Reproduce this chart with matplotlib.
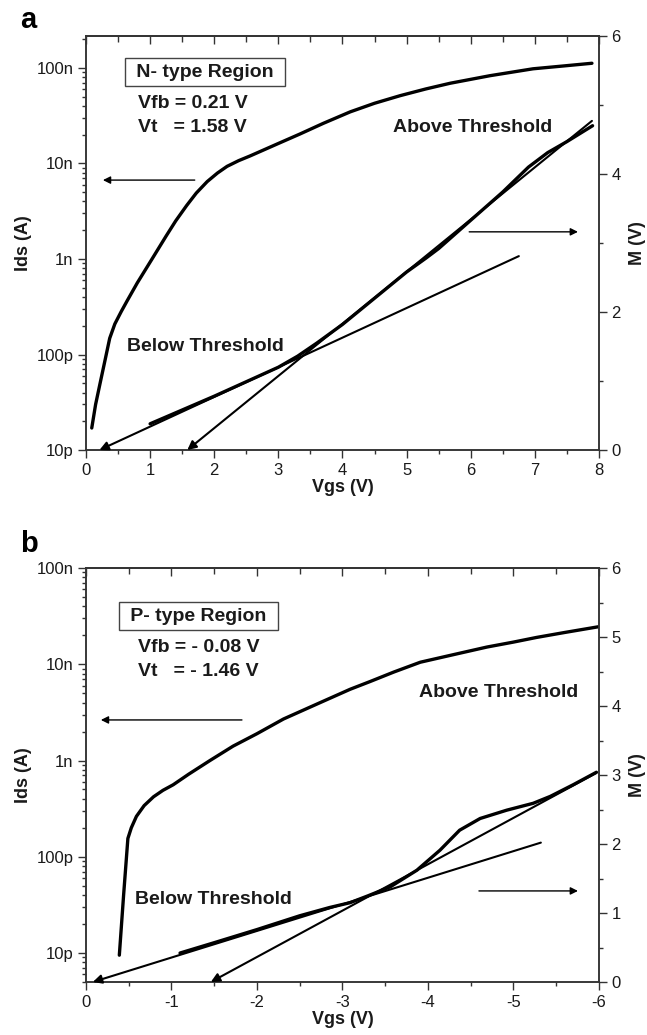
import numpy as np
import matplotlib
matplotlib.use('Agg')
import matplotlib.pyplot as plt
from matplotlib.ticker import FixedLocator, FixedFormatter, MultipleLocator, LogLocator, NullFormatter

plt.rcParams['font.family'] = ['Liberation Sans', 'DejaVu Sans']
plt.rcParams['axes.unicode_minus'] = False

# -------------------------
# Data
# -------------------------
# panel a (N-type), Ids on log axis
a_ids_v = [0.09, 0.15, 0.22, 0.30, 0.37, 0.45, 0.55, 0.64, 0.80, 1.03, 1.25, 1.40, 1.57, 1.72,
           1.89, 2.05, 2.20, 2.38, 2.56, 3.00, 3.34, 3.70, 4.12, 4.50, 4.90, 5.30, 5.68, 6.30,
           6.97, 7.45, 7.89]
a_ids = [1.7e-11, 3.0e-11, 5.0e-11, 8.9e-11, 1.48e-10, 2.09e-10, 2.82e-10, 3.63e-10, 5.62e-10,
         1.0e-9, 1.74e-9, 2.51e-9, 3.63e-9, 4.9e-9, 6.46e-9, 7.94e-9, 9.33e-9, 1.07e-8,
         1.2e-8, 1.62e-8, 2.04e-8, 2.63e-8, 3.47e-8, 4.27e-8, 5.13e-8, 6.03e-8, 6.92e-8,
         8.3e-8, 9.8e-8, 1.05e-7, 1.12e-7]
# panel a, M on right axis
a_m_v = [1.0, 1.5, 2.0, 2.5, 3.0, 3.3, 3.6, 4.0, 4.5, 5.0, 5.3, 5.5, 6.0, 6.5, 6.9, 7.2, 7.5, 7.9]
a_m = [0.38, 0.58, 0.78, 0.99, 1.20, 1.36, 1.55, 1.82, 2.20, 2.58, 2.78, 2.92, 3.33, 3.74,
       4.10, 4.31, 4.47, 4.70]
# fitted lines (end point, then arrow tip on the axis)
a_fit1_v = [6.75, 0.21]
a_fit1_m = [2.81, 0.0]
a_fit2_v = [7.89, 1.58]
a_fit2_m = [4.77, 0.0]

# panel b (P-type)
b_ids_v = [-0.39, -0.44, -0.49, -0.53, -0.59, -0.68, -0.79, -0.90, -1.02, -1.20, -1.45, -1.72,
           -2.00, -2.31, -2.74, -3.09, -3.32, -3.60, -3.91, -4.30, -4.69, -5.00, -5.27, -5.60, -5.99]
b_ids = [9.5e-12, 4.0e-11, 1.55e-10, 2.0e-10, 2.63e-10, 3.4e-10, 4.2e-10, 4.9e-10, 5.6e-10,
         7.2e-10, 1.0e-9, 1.41e-9, 1.9e-9, 2.7e-9, 4.0e-9, 5.5e-9, 6.6e-9, 8.3e-9, 1.05e-8,
         1.26e-8, 1.51e-8, 1.7e-8, 1.9e-8, 2.14e-8, 2.45e-8]
b_m_v = [-1.10, -1.50, -2.00, -2.50, -2.85, -3.09, -3.30, -3.56, -3.87, -4.14, -4.37, -4.61,
         -4.92, -5.23, -5.43, -5.70, -5.97]
b_m = [0.42, 0.57, 0.76, 0.96, 1.08, 1.15, 1.25, 1.38, 1.62, 1.91, 2.20, 2.37, 2.49, 2.59,
       2.69, 2.86, 3.04]
b_fit1_v = [-5.32, -0.08]
b_fit1_m = [2.02, 0.0]
b_fit2_v = [-5.97, -1.46]
b_fit2_m = [3.03, 0.0]

ids_ticks = [1e-11, 1e-10, 1e-9, 1e-8, 1e-7]
ids_labels = ['10p', '100p', '1n', '10n', '100n']

# -------------------------
# Figure
# -------------------------
fig = plt.figure(figsize=(6.47, 10.35), dpi=100)
spine_c = '#333333'
text_c = '#1a1a1a'


def setup(ax, xlim, xmajor, ylim, mticks, mminor):
    ax.set_yscale('log')
    ax.set_xlim(*xlim)
    ax.set_ylim(*ylim)
    ax.xaxis.set_major_locator(MultipleLocator(xmajor))
    ax.xaxis.set_minor_locator(MultipleLocator(xmajor / 2))
    ax.yaxis.set_major_locator(FixedLocator(ids_ticks))
    ax.yaxis.set_major_formatter(FixedFormatter(ids_labels))
    ax.yaxis.set_minor_locator(LogLocator(base=10, subs=np.arange(2, 10)))
    ax.yaxis.set_minor_formatter(NullFormatter())
    ax.tick_params(which='both', direction='out', right=False, top=False, colors=spine_c,
                   labelcolor=text_c, labelsize=12, width=1)
    ax.tick_params(which='major', length=6, pad=3)
    ax.tick_params(which='minor', length=3)
    for s in ax.spines.values():
        s.set_color(spine_c)
        s.set_linewidth(1.1)

    sec = ax.secondary_xaxis('top')
    sec.xaxis.set_major_locator(MultipleLocator(xmajor))
    sec.xaxis.set_minor_locator(MultipleLocator(xmajor / 2))
    sec.tick_params(which='both', direction='in', labeltop=False, colors=spine_c, width=1)
    sec.tick_params(which='major', length=6)
    sec.tick_params(which='minor', length=4)
    sec.spines['top'].set_color(spine_c)
    sec.spines['top'].set_linewidth(1.1)

    ax2 = ax.twinx()
    ax2.set_ylim(0, 6)
    ax2.yaxis.set_major_locator(MultipleLocator(mticks))
    ax2.yaxis.set_minor_locator(MultipleLocator(mminor))
    ax2.tick_params(which='both', direction='out', colors=spine_c, labelcolor=text_c,
                    labelsize=12, width=1)
    ax2.tick_params(which='major', length=6, pad=3)
    ax2.tick_params(which='minor', length=3)
    for s in ax2.spines.values():
        s.set_color(spine_c)
        s.set_linewidth(1.1)

    ax.set_xlabel('Vgs (V)', fontsize=13, fontweight='bold', color=text_c, labelpad=1)
    ax.set_ylabel('Ids (A)', fontsize=13, fontweight='bold', color=text_c, labelpad=3)
    ax2.set_ylabel('M (V)', fontsize=13, fontweight='bold', color=text_c, labelpad=6)
    return ax2


def arrow(ax, x0, x1, y):
    ax.annotate('', xy=(x1, y), xytext=(x0, y), xycoords='axes fraction',
                arrowprops=dict(arrowstyle='-|>', lw=1.0, color='black', mutation_scale=11,
                                shrinkA=0, shrinkB=0))


def fit_line(ax, vs, ms):
    ax.annotate('', xy=(vs[1], ms[1]), xytext=(vs[0], ms[0]), xycoords='data',
                annotation_clip=False,
                arrowprops=dict(arrowstyle='-|>', lw=1.5, color='black', mutation_scale=13,
                                shrinkA=0, shrinkB=0))


tkw = dict(fontsize=14, fontweight='bold', color=text_c)
lkw = dict(color='black', lw=2.4, solid_joinstyle='round', solid_capstyle='round')

# ---- panel a ----
axa = fig.add_axes([0.1329, 0.5652, 0.7929, 0.4])
axa2 = setup(axa, (0, 8), 1, (1e-11, 2.16e-7), 2, 1)
axa.plot(a_ids_v, a_ids, **lkw)
axa2.plot(a_m_v, a_m, **lkw)
fit_line(axa2, a_fit1_v, a_fit1_m)
fit_line(axa2, a_fit2_v, a_fit2_m)
arrow(axa2, 0.212, 0.033, 0.652)
arrow(axa2, 0.747, 0.959, 0.527)
axa2.text(0.232, 0.913, ' N- type Region ', transform=axa2.transAxes, ha='center', va='center',
          bbox=dict(boxstyle='square,pad=0.3', fc='white', ec='#444444', lw=1), **tkw)
axa2.text(0.101, 0.838, 'Vfb = 0.21 V', transform=axa2.transAxes, ha='left', va='center', **tkw)
axa2.text(0.101, 0.780, 'Vt   = 1.58 V', transform=axa2.transAxes, ha='left', va='center', **tkw)
axa2.text(0.754, 0.780, 'Above Threshold', transform=axa2.transAxes, ha='center', va='center', **tkw)
axa2.text(0.232, 0.251, 'Below Threshold', transform=axa2.transAxes, ha='center', va='center', **tkw)

# ---- panel b ----
axb = fig.add_axes([0.1329, 0.0512, 0.7929, 0.4])
axb2 = setup(axb, (0, -6), 1, (5e-12, 1e-7), 1, 0.5)
axb.plot(b_ids_v, b_ids, **lkw)
axb2.plot(b_m_v, b_m, **lkw)
fit_line(axb2, b_fit1_v, b_fit1_m)
fit_line(axb2, b_fit2_v, b_fit2_m)
arrow(axb2, 0.304, 0.029, 0.633)
arrow(axb2, 0.766, 0.959, 0.220)
axb2.text(0.219, 0.884, ' P- type Region ', transform=axb2.transAxes, ha='center', va='center',
          bbox=dict(boxstyle='square,pad=0.3', fc='white', ec='#444444', lw=1), **tkw)
axb2.text(0.101, 0.809, 'Vfb = - 0.08 V', transform=axb2.transAxes, ha='left', va='center', **tkw)
axb2.text(0.101, 0.749, 'Vt   = - 1.46 V', transform=axb2.transAxes, ha='left', va='center', **tkw)
axb2.text(0.805, 0.700, 'Above Threshold', transform=axb2.transAxes, ha='center', va='center', **tkw)
axb2.text(0.248, 0.200, 'Below Threshold', transform=axb2.transAxes, ha='center', va='center', **tkw)

fig.text(0.031, 0.973, 'a', fontsize=21, fontweight='bold', color='black', ha='left', va='baseline')
fig.text(0.031, 0.4667, 'b', fontsize=21, fontweight='bold', color='black', ha='left', va='baseline')

fig.savefig('out.png', dpi=100, facecolor='white')
